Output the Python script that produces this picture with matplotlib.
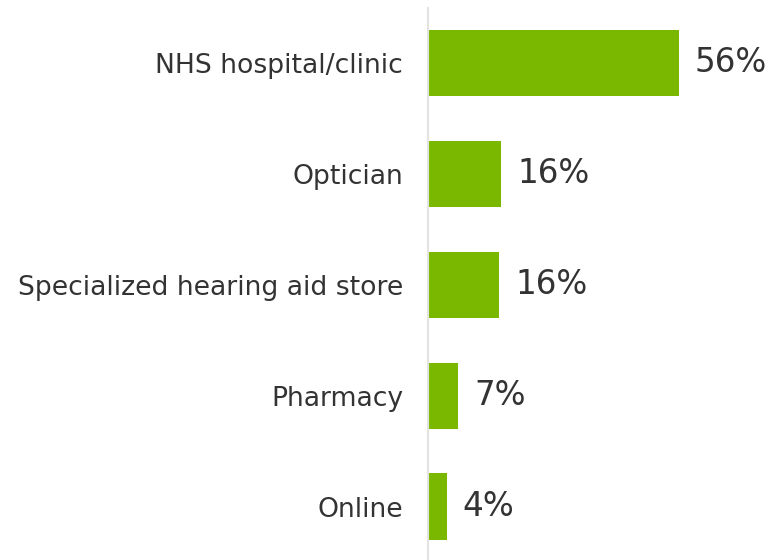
import matplotlib.pyplot as plt

plt.rcParams['font.family'] = ['DejaVu Sans']

categories = ["NHS hospital/clinic", "Optician", "Specialized hearing aid store",
              "Pharmacy", "Online"]
shares = [56, 16.2, 15.7, 6.6, 4.0]
share_labels = ["56%", "16%", "16%", "7%", "4%"]

bar_color = "#7ab800"
text_color = "#333333"

fig = plt.figure(figsize=(7.72, 5.6), dpi=100)
ax = fig.add_axes([428 / 772, 0, 344 / 772, 552 / 560])

ypos = range(len(categories))
bars = ax.barh(ypos, shares, height=0.6, color=bar_color, left=0.2)

for b, lab in zip(bars, share_labels):
    ax.text(b.get_x() + b.get_width() + 3.6, b.get_y() + b.get_height() / 2, lab,
            va="center", ha="left", fontsize=23.5, color=text_color)

ax.set_yticks(list(ypos))
ax.set_yticklabels(categories, fontsize=19.2, color=text_color)
ax.tick_params(axis="y", length=0, pad=18)
ax.set_xticks([])
ax.set_xlim(0, 77.1)
ax.set_ylim(4.48, -0.495)

for s in ["top", "right", "bottom"]:
    ax.spines[s].set_visible(False)
ax.spines["left"].set_color("#e3e3e3")
ax.spines["left"].set_linewidth(1.5)

fig.savefig("out.png", dpi=100)
